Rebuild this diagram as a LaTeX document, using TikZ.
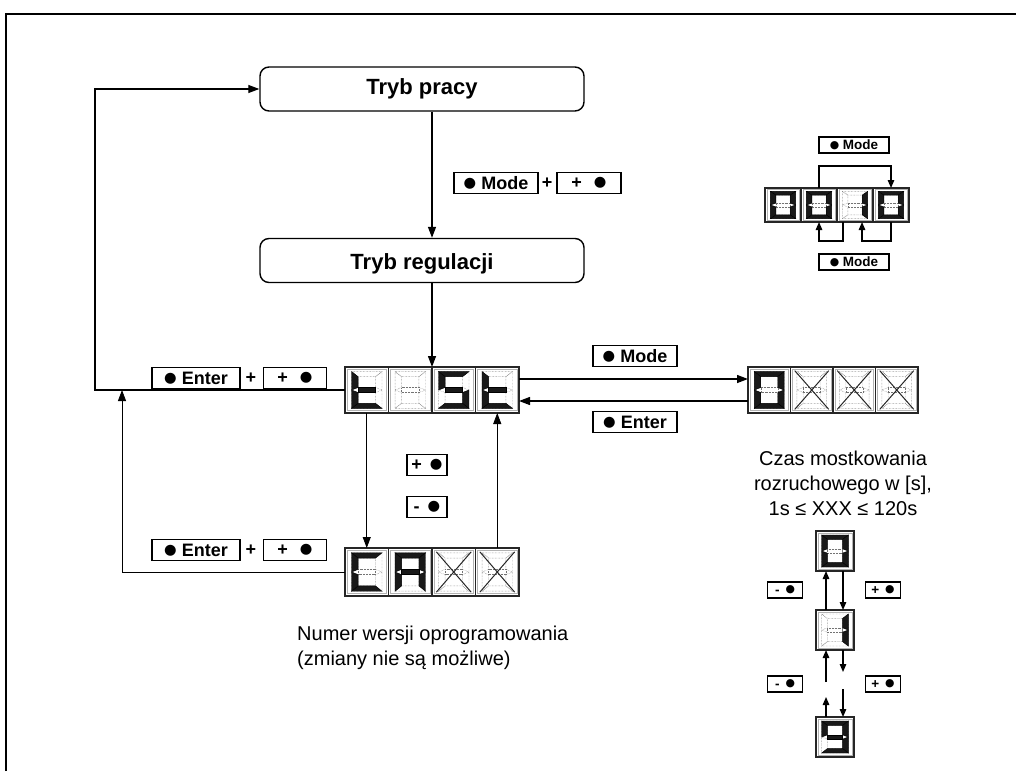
\documentclass[tikz,border=0pt]{standalone}
\usepackage{fontspec}
\setmainfont{Liberation Sans}
\newfontfamily\symfont[Scale=0.8]{DejaVu Sans}
\usetikzlibrary{arrows.meta,calc}
\newcommand\bul{\raisebox{0.1em}{\symfont ●}}
\tikzset{
  sega/.pic={\path[pic actions] (0.15,0.1) -- (0.85,0.1) -- (0.7,0.21) -- (0.3,0.21) -- cycle;},
  segb/.pic={\path[pic actions] (0.85,0.1) -- (0.85,0.5) -- (0.7,0.445) -- (0.7,0.21) -- cycle;},
  segc/.pic={\path[pic actions] (0.85,0.5) -- (0.85,0.9) -- (0.7,0.79) -- (0.7,0.555) -- cycle;},
  segd/.pic={\path[pic actions] (0.15,0.9) -- (0.85,0.9) -- (0.7,0.79) -- (0.3,0.79) -- cycle;},
  sege/.pic={\path[pic actions] (0.15,0.5) -- (0.15,0.9) -- (0.3,0.79) -- (0.3,0.555) -- cycle;},
  segf/.pic={\path[pic actions] (0.15,0.1) -- (0.15,0.5) -- (0.3,0.445) -- (0.3,0.21) -- cycle;},
  segg/.pic={\path[pic actions] (0.3,0.445) -- (0.7,0.445) -- (0.7,0.555) -- (0.3,0.555) -- cycle;},
  segnone/.pic={},
}
% #1 name, #2 x, #3 y, #4 w, #5 h, #6 lit segments, #7 crossed
\newcommand\dig[7]{%
  \node[cell, minimum width=#4pt, minimum height=#5pt] (#1) at (#2,#3) {};
  \begin{scope}[shift={(#1.north west)}, x=#4pt, y=-#5pt]
    \draw[frame] (0.05,0.05) rectangle (0.95,0.95);
    \foreach \s in {a,b,c,d,e,f,g}{\edef\tmp{\noexpand\pic[unlit]{seg\s};}\tmp}
    \foreach \s in {#6}{\edef\tmp{\noexpand\pic[lit]{seg\s};}\tmp}
    \ifnum#7=1 \draw[crossx] (0.1,0.08) -- (0.9,0.92) (0.9,0.08) -- (0.1,0.92);\fi
  \end{scope}}
\begin{document}
\begin{tikzpicture}[x=1pt,y=-1pt,
  line/.style={line width=1.3pt},
  thinl/.style={line width=0.8pt},
  arr/.style={-{Triangle[length=11pt,width=8pt]}},
  sarr/.style={-{Triangle[length=8pt,width=6.5pt]}},
  mode/.style={draw, line width=1.4pt, rounded corners=9pt, minimum width=324pt, minimum height=44pt, inner sep=0pt, font=\fontsize{22}{22}\selectfont\bfseries},
  key/.style={draw, line width=1.3pt, fill=white, minimum height=21pt, inner sep=0pt, font=\fontsize{18}{18}\selectfont\bfseries},
  skey/.style={draw, line width=1.1pt, fill=white, minimum height=16pt, inner sep=0pt, font=\fontsize{13.5}{13.5}\selectfont\bfseries},
  plus/.style={font=\fontsize{18}{18}\selectfont\bfseries, inner sep=0pt},
  cell/.style={draw=black!85, line width=1.2pt, fill=white, inner sep=0pt, outer sep=0pt},
  frame/.style={draw=black!30, line width=0.5pt},
  unlit/.style={draw=black!55, densely dotted, line width=0.45pt},
  lit/.style={fill=black!90, draw=black, line width=0.4pt},
  crossx/.style={line width=1pt, black!85},
  body/.style={font=\fontsize{20}{25}\selectfont, inner sep=0pt}
]
\useasboundingbox (0,0) rectangle (1016,771);
\draw[line] (6,771) -- (6,14) -- (1016,14);

\node[mode] (pracy) at (422,89) {Tryb pracy};
\node[mode] (regul) at (422,260.5) {\raisebox{-9pt}[0pt][0pt]{Tryb regulacji}};

% tESt
\dig{t1}{366.75}{390}{43.5}{46}{d,e,f,g}{0}
\dig{t2}{410.25}{390}{43.5}{46}{none}{0}
\dig{t3}{453.75}{390}{43.5}{46}{a,c,d,f,g}{0}
\dig{t4}{497.25}{390}{43.5}{46}{d,e,f,g}{0}
% 0XXX
\dig{z1}{769.25}{390}{42.5}{46}{a,b,c,d,e,f}{0}
\dig{z2}{811.75}{390}{42.5}{46}{none}{1}
\dig{z3}{854.25}{390}{42.5}{46}{none}{1}
\dig{z4}{896.75}{390}{42.5}{46}{none}{1}
% CA
\dig{c1}{366.75}{572}{43.5}{48}{a,d,e,f}{0}
\dig{c2}{410.25}{572}{43.5}{48}{a,b,c,e,f,g}{0}
\dig{c3}{453.75}{572}{43.5}{48}{none}{1}
\dig{c4}{497.25}{572}{43.5}{48}{none}{1}
% 0010
\dig{r1}{783}{205}{36}{34}{a,b,c,d,e,f}{0}
\dig{r2}{819}{205}{36}{34}{a,b,c,d,e,f}{0}
\dig{r3}{855}{205}{36}{34}{b,c}{0}
\dig{r4}{891}{205}{36}{34}{a,b,c,d,e,f}{0}
% 0 / 1 / 9
\dig{b0}{835}{551}{38}{40}{a,b,c,d,e,f}{0}
\dig{b1}{835}{630}{38}{40}{b,c}{0}
\dig{b9}{835}{737}{38}{40}{a,b,c,d,f,g}{0}

% connectors
\draw[line, arr] (pracy.south -| t2.east) -- (regul.north -| t2.east);
\draw[line, arr] (regul.south -| t2.east) -- (t2.north east);
\coordinate (lp) at (95,390);
\draw[line, arr] (t1.west) -- (lp) |- (pracy.west);
\coordinate (lp2) at (122,390);
\draw[thinl, arr] (c1.west) -| (lp2);
\draw[line, arr] ([yshift=11pt]t4.east) -- ([yshift=11pt]z1.west);
\draw[line, arr] ([yshift=-11pt]z1.west) -- ([yshift=-11pt]t4.east);
\draw[thinl, arr] (t1.south) -- (c1.north);
\draw[thinl, arr] (c4.north) -- (t4.south);

\coordinate (rt) at (0,166);
\draw[line, sarr] (r2.north) -- (r2.north |- rt) -| (r4.north);
\coordinate (rb) at (0,241);
\draw[line, sarr] ([xshift=-12pt]r3.south) -- ([xshift=-12pt]r3.south |- rb) -| (r2.south);
\draw[line, sarr] (r4.south) -- (r4.south |- rb) -| ([xshift=7pt]r3.south);

\draw[line, sarr] ([xshift=-9pt]b1.north) -- ([xshift=-9pt]b0.south);
\draw[line, sarr] ([xshift=8pt]b0.south) -- ([xshift=8pt]b1.north);
\coordinate (g1) at (826,682);
\coordinate (g2) at (826,697);
\coordinate (g3) at (843,672);
\coordinate (g4) at (843,689);
\draw[line, sarr] (g1) -- ([xshift=-9pt]b1.south);
\draw[line, sarr] ([xshift=-9pt]b9.north) -- (g2);
\draw[line, sarr] ([xshift=8pt]b1.south) -- (g3);
\draw[line, sarr] (g4) -- ([xshift=8pt]b9.north);

% keys
\node[key, minimum width=84pt] (k1) at (496,183) {\bul\ Mode};
\node[plus] (p1) at (547,183) {+};
\node[key, minimum width=64pt] (k2) at (589,183) {+\hspace{12pt}\bul};
\node[key, minimum width=88pt] (k3) at (196,378) {\bul\ Enter};
\node[plus] (p2) at (251,378) {+};
\node[key, minimum width=63pt] (k4) at (295,378) {+\hspace{12pt}\bul};
\node[key, minimum width=88pt] (k5) at (196,550) {\bul\ Enter};
\node[plus] (p3) at (251,550) {+};
\node[key, minimum width=63pt] (k6) at (295,550) {+\hspace{12pt}\bul};
\node[key, minimum width=84pt] (k7) at (635,356) {\bul\ Mode};
\node[key, minimum width=84pt] (k8) at (635,422) {\bul\ Enter};
\node[key, minimum width=40pt] (k9) at (427,465) {+\hspace{8pt}\bul};
\node[key, minimum width=40pt] (k10) at (427,507) {-\hspace{8pt}\bul};
\node[skey, minimum width=70pt] (k11) at (854,145) {\bul\ Mode};
\node[skey, minimum width=70pt] (k12) at (854,262) {\bul\ Mode};
\node[skey, minimum width=35pt] (k13) at (785,590) {-\hspace{6pt}\bul};
\node[skey, minimum width=35pt] (k14) at (883,590) {+\hspace{6pt}\bul};
\node[skey, minimum width=35pt] (k15) at (785,684) {-\hspace{6pt}\bul};
\node[skey, minimum width=35pt] (k16) at (883,684) {+\hspace{6pt}\bul};

% texts
\node[body, align=center] (czas) at (843,483) {Czas mostkowania\\rozruchowego w [s],\\1s ≤ XXX ≤ 120s};
\node[body, align=left, anchor=north west] (numer) at (297,626) {Numer wersji oprogramowania\\(zmiany nie są możliwe)};
\end{tikzpicture}
\end{document}
